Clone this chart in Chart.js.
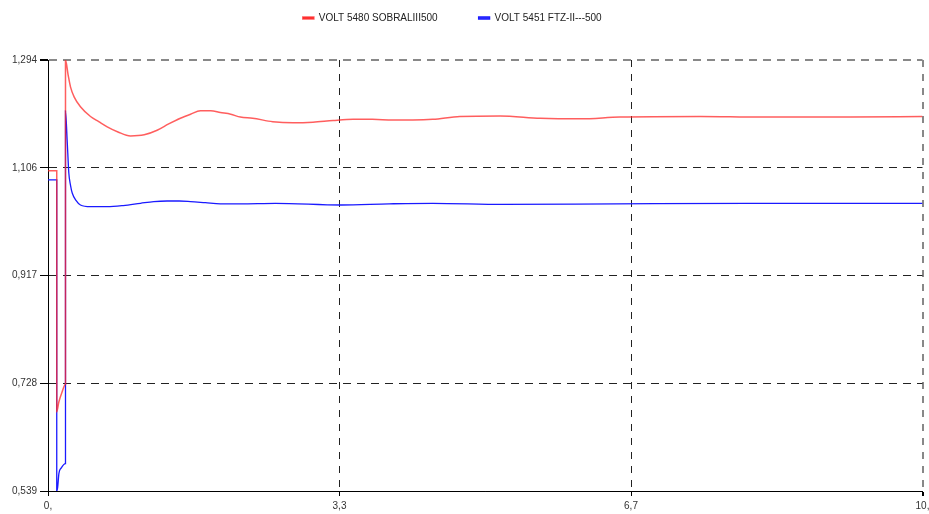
<!DOCTYPE html>
<html>
<head>
<meta charset="utf-8">
<script src="https://cdn.jsdelivr.net/npm/chart.js@4"></script>
<style>
  html, body { margin: 0; padding: 0; background: #fff; }
  #grafico { display: block; }
</style>
</head>
<body>
<canvas id="grafico" width="929" height="514"></canvas>
<script>
// Series names
const serieRoja = 'VOLT 5480 SOBRALIII500';
const serieAzul = 'VOLT 5451 FTZ-II---500';

// Red series (time in s, voltage in pu)
const tiempoRojo = [0, 0.10, 0.10, 0.124, 0.16, 0.20, 0.20, 0.23, 0.257, 0.30, 0.371, 0.486, 0.58, 0.677, 0.80, 0.943, 1.10, 1.248, 1.38, 1.514, 1.63, 1.743, 1.86, 1.971, 2.09, 2.20, 2.34, 2.57, 2.80, 3.03, 3.26, 3.49, 3.71, 3.94, 4.17, 4.40, 4.71, 5.17, 5.63, 6.09, 6.54, 7.46, 8.14, 9.17, 10];
const voltRojo   = [1.100, 1.100, 0.678, 0.695, 0.712, 0.726, 1.294, 1.268, 1.247, 1.229, 1.212, 1.195, 1.186, 1.177, 1.168, 1.161, 1.163, 1.171, 1.182, 1.192, 1.199, 1.205, 1.205, 1.202, 1.199, 1.194, 1.192, 1.186, 1.184, 1.185, 1.188, 1.190, 1.190, 1.189, 1.189, 1.190, 1.195, 1.196, 1.192, 1.191, 1.194, 1.195, 1.194, 1.194, 1.195];

// Blue series
const tiempoAzul = [0, 0.10, 0.10, 0.11, 0.125, 0.15, 0.20, 0.20, 0.219, 0.238, 0.257, 0.277, 0.32, 0.371, 0.486, 0.677, 0.86, 1.057, 1.21, 1.362, 1.50, 1.629, 1.80, 1.971, 2.20, 2.60, 3.35, 3.90, 4.40, 5.20, 6.50, 8.00, 10];
const voltAzul   = [1.084, 1.084, 0.539, 0.545, 0.570, 0.579, 0.587, 1.205, 1.154, 1.096, 1.075, 1.061, 1.048, 1.040, 1.037, 1.037, 1.039, 1.043, 1.046, 1.047, 1.047, 1.046, 1.044, 1.042, 1.042, 1.043, 1.040, 1.042, 1.043, 1.041, 1.042, 1.043, 1.043];

// Axis ticks
const ticksY = [0.539, 0.72775, 0.9165, 1.10525, 1.294];
const etiquetasY = ['0,539', '0,728', '0,917', '1,106', '1,294'];
const ticksX = [0, 10 / 3, 20 / 3, 10];
const etiquetasX = ['0,', '3,3', '6,7', '10,'];

const puntos = (xs, ys) => xs.map((x, i) => ({ x: x, y: ys[i] }));

// Extra room under the legend
const margenLeyenda = {
    id: 'margenLeyenda',
    beforeInit(chart) {
        const fitOriginal = chart.legend.fit;
        chart.legend.fit = function fit() {
            fitOriginal.bind(chart.legend)();
            this.height = 88;
        };
    }
};

const fuente = { family: '"Liberation Sans", Arial, sans-serif', size: 10 };

new Chart(document.getElementById('grafico'), {
    type: 'line',
    data: {
        datasets: [{
            label: serieRoja,
            data: puntos(tiempoRojo, voltRojo),
            borderColor: 'rgba(255, 40, 40, 0.75)',
            backgroundColor: '#ff3b3b',
            borderWidth: 1.5,
            pointRadius: 0,
            cubicInterpolationMode: 'monotone'
        }, {
            label: serieAzul,
            data: puntos(tiempoAzul, voltAzul),
            borderColor: '#1a1aff',
            backgroundColor: '#5050ff',
            borderWidth: 1.3,
            pointRadius: 0,
            cubicInterpolationMode: 'monotone'
        }]
    },
    options: {
        responsive: false,
        animation: false,
        layout: { padding: { top: -28, left: -18, right: 6.5, bottom: 0 } },
        plugins: {
            legend: {
                position: 'top',
                labels: {
                    boxWidth: 11,
                    boxHeight: 2,
                    padding: 41,
                    color: '#222',
                    font: fuente
                }
            },
            tooltip: { enabled: false }
        },
        scales: {
            x: {
                type: 'linear',
                min: 0,
                max: 10,
                afterBuildTicks: s => { s.ticks = ticksX.map(v => ({ value: v })); },
                afterFit: s => { s.height = 23; s.paddingRight = 0; s.paddingLeft = 0; },
                ticks: {
                    callback: (v, i) => etiquetasX[i],
                    color: '#333',
                    font: fuente,
                    padding: 4,
                    maxRotation: 0
                },
                grid: {
                    color: ctx => (ctx.tick && ctx.tick.value === 10) ? '#888' : '#222',
                    lineWidth: ctx => (ctx.tick && ctx.tick.value === 10) ? 2 : 1,
                    tickColor: '#000',
                    tickLength: 5
                },
                border: { color: '#000', width: 1, dash: [7, 7] }
            },
            y: {
                min: 0.539,
                max: 1.294,
                afterBuildTicks: s => { s.ticks = ticksY.map(v => ({ value: v })); },
                afterFit: s => { s.width = 66; },
                ticks: {
                    callback: (v, i) => etiquetasY[i],
                    color: '#333',
                    font: fuente,
                    padding: 3
                },
                grid: {
                    color: ctx => (ctx.tick && ctx.tick.value === 1.294) ? '#888' : '#222',
                    lineWidth: ctx => (ctx.tick && ctx.tick.value === 1.294) ? 2 : 1,
                    tickColor: '#000',
                    tickLength: 8
                },
                border: { color: '#000', width: 1, dash: [8, 6] }
            }
        }
    },
    plugins: [margenLeyenda]
});
</script>
</body>
</html>
